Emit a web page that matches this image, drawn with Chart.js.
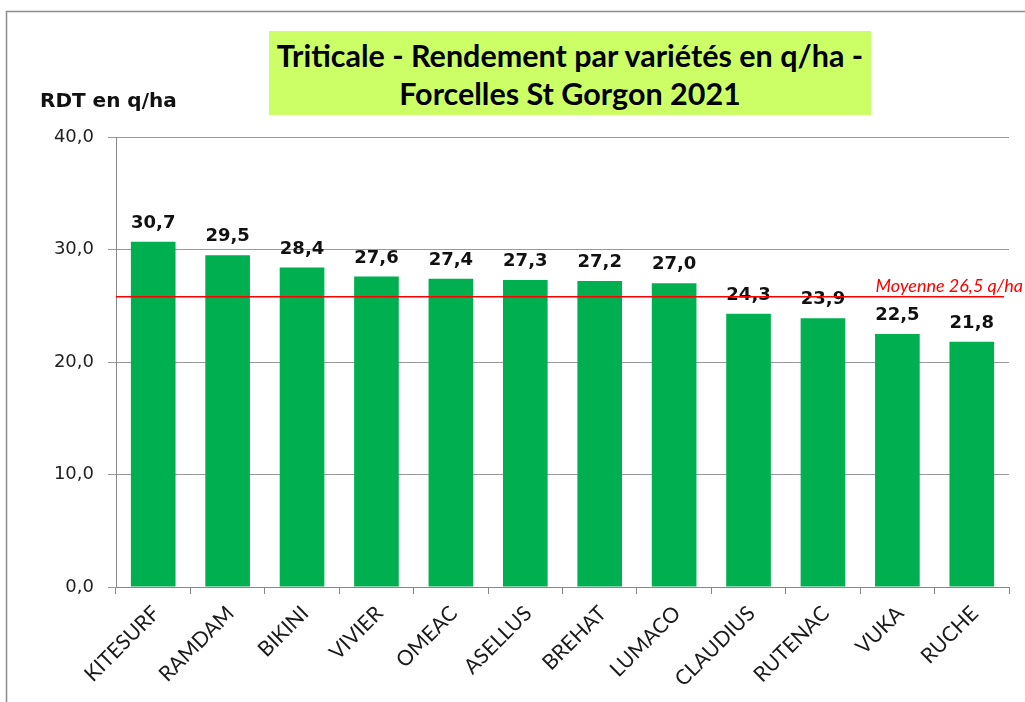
<!DOCTYPE html>
<html>
<head>
  <meta charset="utf-8">
  <title>Triticale - Rendement par variétés</title>
  <script src="https://cdn.jsdelivr.net/npm/chart.js"></script>
  <style>
    body { margin: 0; background: #fff; }
    #wrap { position: relative; width: 1025px; height: 702px; overflow: hidden; }
    #titleBox {
      position: absolute; left: 269px; top: 31px; width: 602px; height: 84px;
      background: #ccff66; font-family: Lato, sans-serif; font-weight: bold;
      font-size: 30.5px; line-height: 38px; text-align: center; color: #000;
      padding-top: 5px; box-sizing: border-box; white-space: nowrap;
    }
    #unit {
      position: absolute; left: 40px; top: 88px; font-family: 'DejaVu Sans', sans-serif;
      font-weight: bold; font-size: 20px; color: #111;
    }
  </style>
</head>
<body>
  <div id="wrap">
    <canvas id="chart" width="1025" height="702"></canvas>
    <div id="titleBox">Triticale - Rendement par variétés en q/ha -<br>Forcelles St Gorgon 2021</div>
    <div id="unit">RDT en q/ha</div>
  </div>

  <script>
    const varietes = ['KITESURF', 'RAMDAM', 'BIKINI', 'VIVIER', 'OMEAC', 'ASELLUS', 'BREHAT', 'LUMACO', 'CLAUDIUS', 'RUTENAC', 'VUKA', 'RUCHE'];
    const rendements = [30.7, 29.5, 28.4, 27.6, 27.4, 27.3, 27.2, 27.0, 24.3, 23.9, 22.5, 21.8];
    const moyenneLigne = 25.8; // where the red line sits in the picture
    const moyenneTexte = 'Moyenne 26,5 q/ha';

    const fmt = v => v.toFixed(1).replace('.', ',');

    // outer frame + value labels + average line
    const extras = {
      id: 'extras',
      beforeDraw(chart) {
        const ctx = chart.ctx;
        ctx.save();
        ctx.strokeStyle = '#8c8c8c';
        ctx.lineWidth = 1.5;
        ctx.strokeRect(6.5, 11.5, 1040, 720);
        ctx.restore();
      },
      afterDatasetsDraw(chart) {
        const ctx = chart.ctx;
        const meta = chart.getDatasetMeta(0);
        ctx.save();
        ctx.font = 'bold 18px "DejaVu Sans"';
        ctx.fillStyle = '#111';
        ctx.textAlign = 'center';
        ctx.textBaseline = 'alphabetic';
        meta.data.forEach((bar, i) => {
          ctx.fillText(fmt(rendements[i]), bar.x, bar.y - 14);
        });

        const y = chart.scales.y.getPixelForValue(moyenneLigne);
        ctx.strokeStyle = 'rgb(255,0,0)';
        ctx.lineWidth = 1.4;
        ctx.beginPath();
        ctx.moveTo(chart.chartArea.left, y);
        ctx.lineTo(chart.chartArea.right - 5, y);
        ctx.stroke();

        ctx.font = 'italic 18px Lato';
        ctx.fillStyle = '#ff0000';
        ctx.textAlign = 'right';
        ctx.fillText(moyenneTexte, 1023, y - 5);
        ctx.restore();
      }
    };

    new Chart(document.getElementById('chart').getContext('2d'), {
      type: 'bar',
      data: {
        labels: varietes,
        datasets: [{
          data: rendements,
          backgroundColor: '#00b050',
          categoryPercentage: 1,
          barPercentage: 0.6,
        }],
      },
      options: {
        responsive: false,
        animation: false,
        layout: { padding: { left: 0, top: 137, right: 16, bottom: 0 } },
        plugins: {
          legend: { display: false },
          tooltip: { enabled: false },
        },
        scales: {
          x: {
            afterFit: s => { s.height = 115; },
            grid: { drawOnChartArea: false, tickLength: 7, color: '#888' },
            border: { color: '#888' },
            ticks: {
              minRotation: 45, maxRotation: 45, autoSkip: false,
              font: { family: 'Lato', size: 21 }, color: '#1a1a1a',
              padding: 7, labelOffset: 3,
            },
          },
          y: {
            min: 0, max: 40,
            afterFit: s => { s.width = 116; },
            grid: { color: '#999', tickLength: 8 },
            border: { color: '#888' },
            ticks: {
              stepSize: 10, padding: 14,
              font: { family: 'DejaVu Sans', size: 18 }, color: '#222',
              callback: v => fmt(v),
            },
          },
        },
      },
      plugins: [extras],
    });
  </script>
</body>
</html>
